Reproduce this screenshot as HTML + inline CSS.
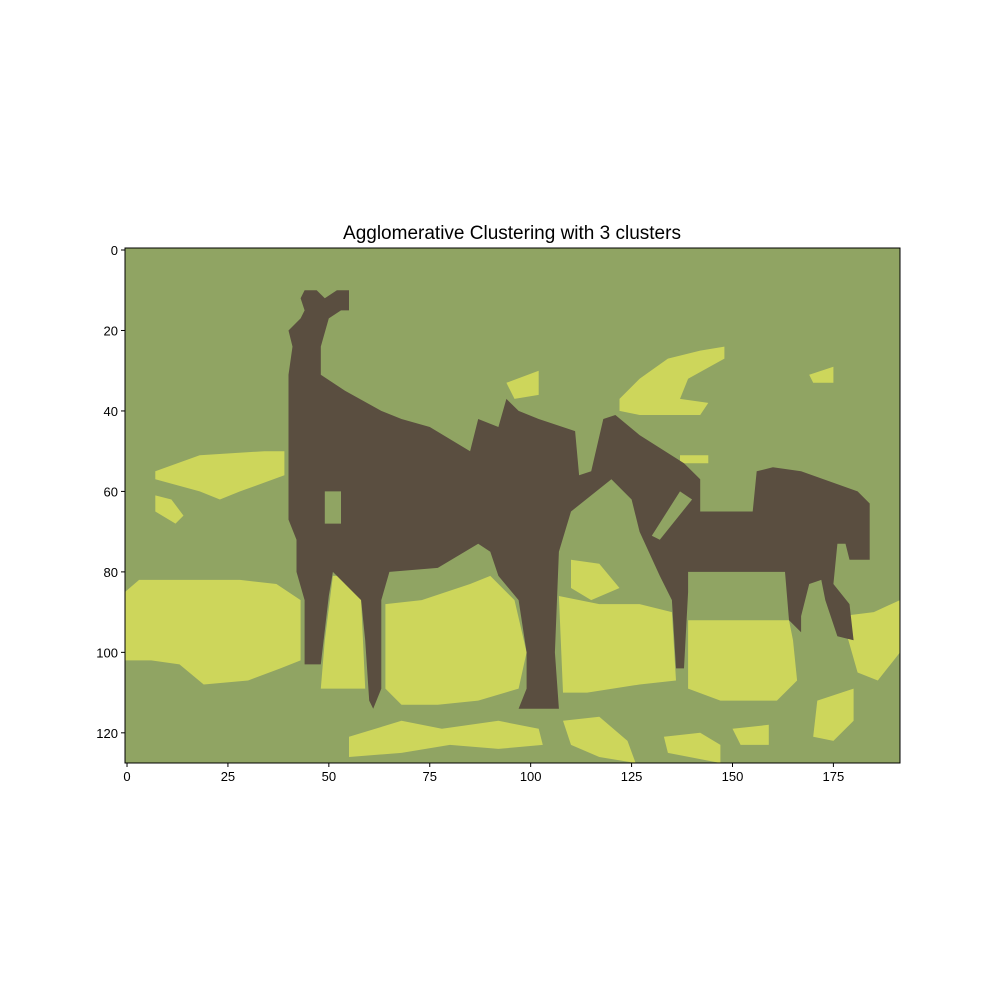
<!DOCTYPE html>
<html><head><meta charset="utf-8"><style>
html,body{margin:0;padding:0;background:#fff;}
svg{display:block;font-family:"Liberation Sans","DejaVu Sans",sans-serif;}
</style></head><body>
<svg id="chart" width="1000" height="1000" viewBox="0 0 1000 1000" xmlns="http://www.w3.org/2000/svg">
<text x="512" y="239" text-anchor="middle" font-size="19">Agglomerative Clustering with 3 clusters</text>
<g id="plot"></g>
<g id="axes"></g>
</svg>
<script>
const xTicks=[0,25,50,75,100,125,150,175];
const yTicks=[0,20,40,60,80,100,120];
const imgW=192, imgH=128;
const horse=[[43,12],[44,10],[47,10],[49,12],[52,10],[55,10],[55,15],[53,15],[50,17],[48,24],[48,31],[54,35],[63,40],[68,42],[75,44],[85,50],[87,42],[92,44],[94,37],[97,40],[102,42],[111,45],[112,56],[115,55],[118,42],[121,41],[127,46],[138,53],[142,57],[142,65],[155,65],[156,55],[160,54],[167,55],[181,60],[184,63],[184,77],[179,77],[178,73],[176,73],[175,83],[179,88],[180,97],[176,96],[173,87],[172,82],[169,83],[167,91],[167,95],[164,92],[163,80],[139,80],[139,85],[138,104],[136,104],[135,87],[132,81],[127,70],[125,62],[120,57],[110,65],[107,75],[106,100],[107,114],[97,114],[99,109],[99,100],[97,87],[92,81],[90,75],[87,73],[77,79],[65,80],[63,87],[63,109],[61,114],[60,112],[59,97],[58,87],[51,80],[50,86],[48,103],[44,103],[44,87],[42,80],[42,72],[40,67],[40,51],[40,40],[40,31],[41,24],[40,20],[43,17],[44,15]];
const yellowRegions=[
[[-0.5,85],[3,82],[12,82],[28,82],[37,83],[43,87],[43,102],[38,104],[30,107],[19,108],[13,103],[6,102],[-0.5,102]],
[[64,88],[73,87],[85,83],[90,81],[96,87],[99,100],[97,109],[87,112],[77,113],[68,113],[64,109]],
[[51,81],[57,81],[58,87],[59,109],[54,109],[48,109],[49,97]],
[[107,86],[117,88],[127,88],[135,90],[136,107],[127,108],[114,110],[108,110]],
[[139,92],[164,92],[165,97],[166,107],[161,112],[147,112],[139,109]],
[[177,91],[185,90],[191.5,87],[191.5,100],[186,107],[181,105]],
[[55,121],[68,117],[78,119],[92,117],[102,119],[103,123],[92,124],[80,123],[68,125],[55,126]],
[[108,117],[117,116],[124,122],[126,127.5],[117,126],[110,123]],
[[133,121],[142,120],[147,123],[147,127.5],[134,125]],
[[171,112],[180,109],[180,117],[175,122],[170,121]],
[[150,119],[159,118],[159,123],[152,123]],
[[7,55],[18,51],[34,50],[39,50],[39,56],[28,60],[23,62],[18,60],[7,57]],
[[7,61],[11,62],[14,66],[12,68],[7,65]],
[[122,37],[127,32],[134,27],[142,25],[148,24],[148,27],[139,32],[137,37],[144,38],[142,41],[127,41],[122,40]],
[[94,33],[102,30],[102,36],[96,37]],
[[169,31],[175,29],[175,33],[170,33]],
[[137,51],[144,51],[144,53],[137,53]],
[[110,77],[117,78],[122,84],[115,87],[110,84]]
];
const greenHoles=[
[[49,60],[53,60],[53,68],[49,68]],
[[130,71],[137,60],[140,62],[132,72]]
];
const L=125,R=900,T=248,B=763;
function sx(v){return L+(v+0.5)*(R-L)/imgW;}
function sy(v){return T+(v+0.5)*(B-T)/imgH;}
const NS="http://www.w3.org/2000/svg";
const plot=document.getElementById('plot');
const axes=document.getElementById('axes');
function mk(tag,attrs,parent){const e=document.createElementNS(NS,tag);for(const k in attrs)e.setAttribute(k,attrs[k]);parent.appendChild(e);return e;}
const bg=mk('rect',{x:L,y:T,width:R-L,height:B-T,fill:'#90a463'},plot);


function poly(pts,fill,name){const p=mk('polygon',{points:pts.map(q=>sx(q[0]).toFixed(1)+','+sy(q[1]).toFixed(1)).join(' '),fill:fill},plot);

}
yellowRegions.forEach(r=>poly(r,'#cdd65b','cluster-yellow-region'));
poly(horse,'#5a4e40','cluster-horse-region');
greenHoles.forEach(r=>poly(r,'#90a463','cluster-green-region'));
const frame=mk('rect',{x:L,y:T,width:R-L,height:B-T,fill:'none',stroke:'#000','stroke-width':1},axes);


xTicks.forEach(t=>{const x=sx(t);
const l=mk('line',{x1:x,x2:x,y1:B,y2:B+4,stroke:'#000'},axes);


const tx=mk('text',{x:x,y:B+18,'text-anchor':'middle','font-size':13},axes);tx.textContent=t;

});
yTicks.forEach(t=>{const y=sy(t);
const l=mk('line',{x1:L-4,x2:L,y1:y,y2:y,stroke:'#000'},axes);


const tx=mk('text',{x:L-7,y:y+5,'text-anchor':'end','font-size':13},axes);tx.textContent=t;

});
</script>
</body></html>
